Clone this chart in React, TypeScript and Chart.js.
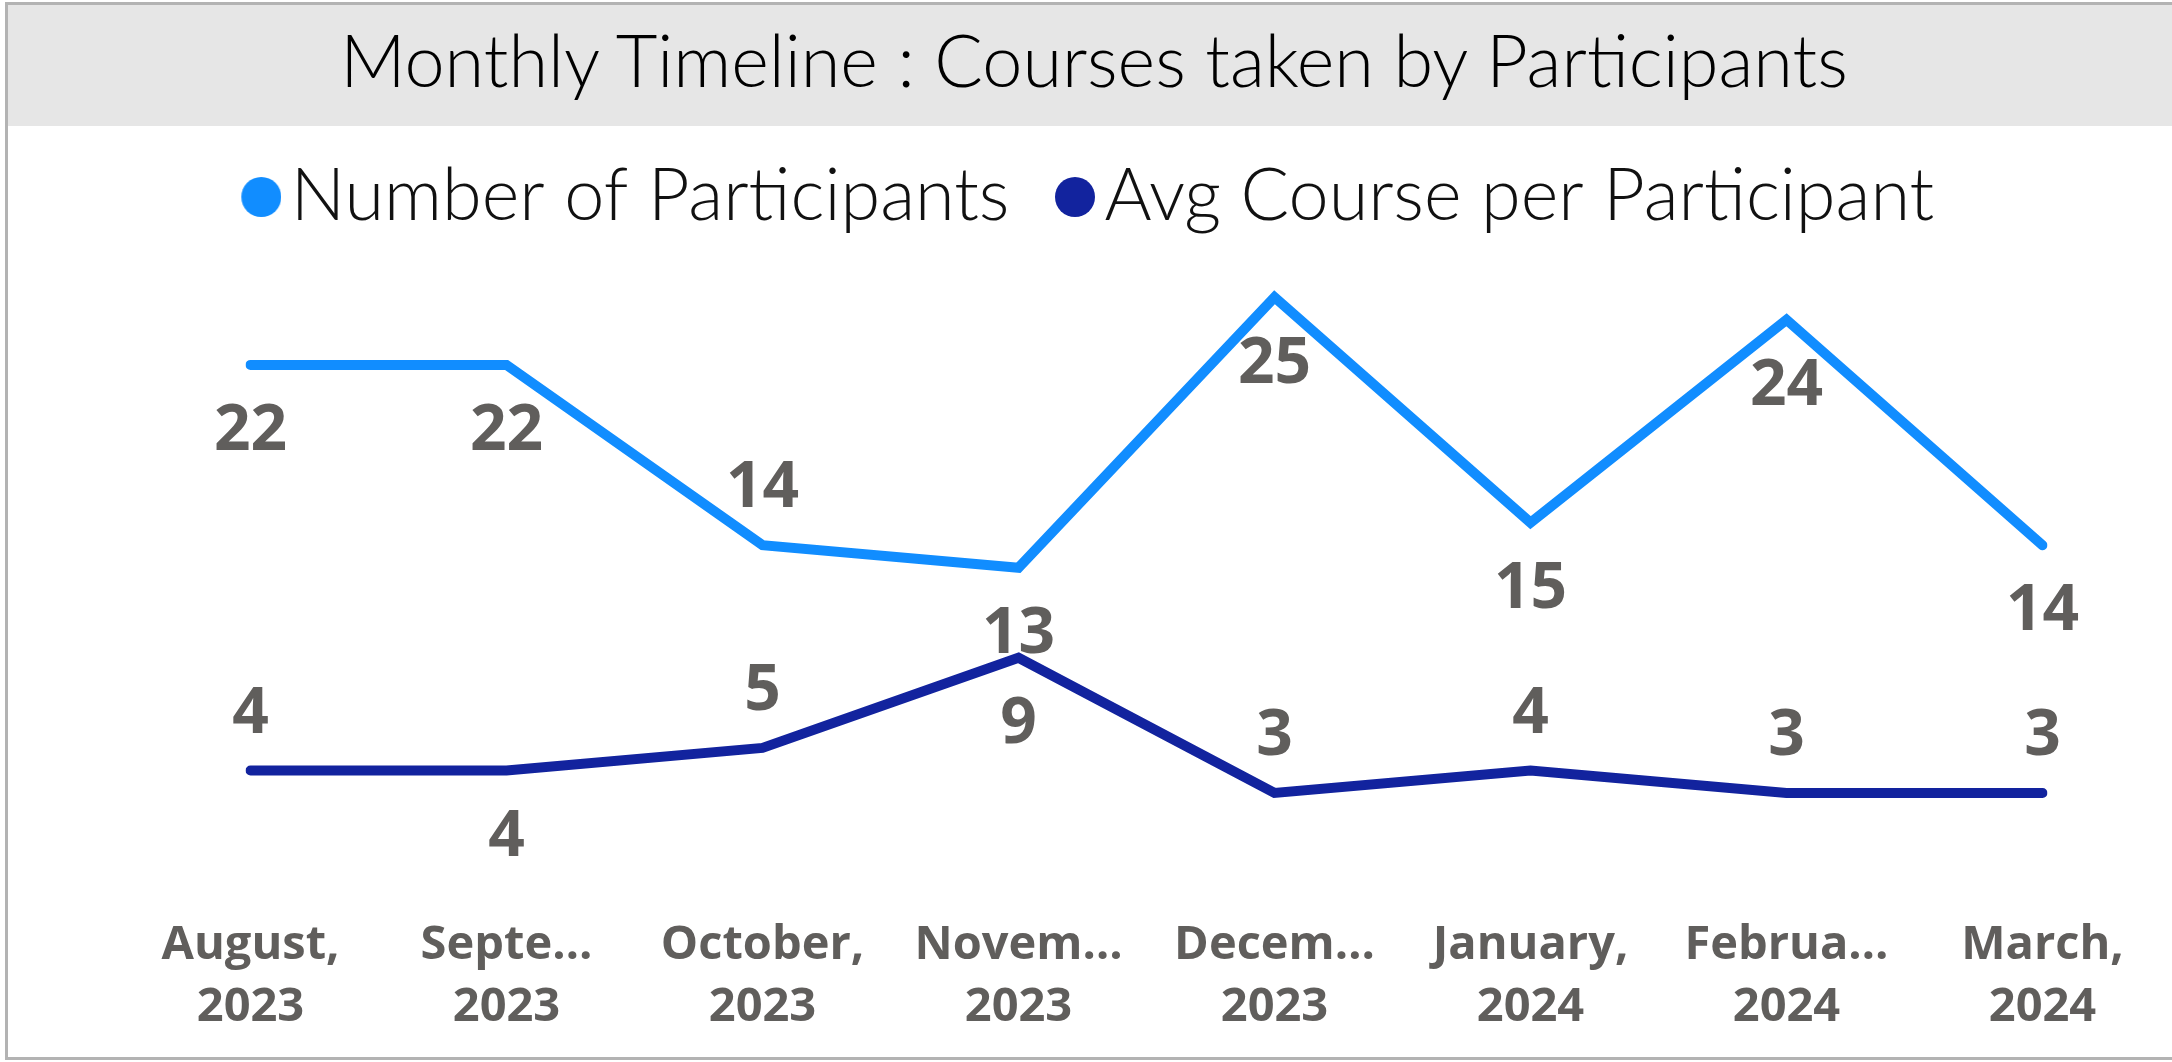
import React, { useEffect, useRef } from 'react';
import { Chart, registerables } from 'chart.js';

Chart.register(...registerables);

// ---- data ----
const chartTitle = 'Monthly Timeline : Courses taken by Participants';
const monthLabels = ['August,', 'Septe…', 'October,', 'Novem…', 'Decem…', 'January,', 'Februa…', 'March,'];
const yearLabels = ['2023', '2023', '2023', '2023', '2023', '2024', '2024', '2024'];
const seriesNames = ['Number of Participants', 'Avg Course per Participant'];
const participants = [22, 22, 14, 13, 25, 15, 24, 14];
const avgCourses = [4, 4, 5, 9, 3, 4, 3, 3];
// label placement (style): where each value label sits relative to its point
const participantsLabelSide = ['below', 'below', 'above', 'below', 'below', 'below', 'below', 'below'];
const avgLabelSide = ['above', 'below', 'above', 'below', 'above', 'above', 'above', 'above'];

const seriesColors = ['#118DFF', '#12239E'];
const labelGray = '#605E5C';
const lightFont = 'Lato';
const boldFont = '"Open Sans"';

const labelSides = [participantsLabelSide, avgLabelSide];

const valueLabelPlugin = {
  id: 'valueLabels',
  afterDatasetsDraw(chart: any) {
    const ctx = chart.ctx;
    ctx.save();
    ctx.font = `700 64px ${boldFont}`;
    ctx.fillStyle = labelGray;
    ctx.textAlign = 'center';
    ctx.textBaseline = 'middle';
    chart.data.datasets.forEach((ds: any, i: number) => {
      const meta = chart.getDatasetMeta(i);
      meta.data.forEach((pt: any, j: number) => {
        const side = labelSides[i][j];
        const dy = side === 'above' ? -56 : 67;
        ctx.fillText(String(ds.data[j]), pt.x, pt.y + dy);
      });
    });
    ctx.restore();
  },
};

// legend marker: a 40px dot, drawn slightly to the right inside its image
function makeDot(color: string): HTMLCanvasElement {
  const shift = 7;
  const d = 40;
  const c = document.createElement('canvas');
  c.width = d + 2 * shift;
  c.height = d;
  const g = c.getContext('2d');
  if (g) {
    g.fillStyle = color;
    g.beginPath();
    g.arc(d / 2 + 2 * shift, d / 2, d / 2, 0, Math.PI * 2);
    g.fill();
  }
  return c;
}

export default function App() {
  const canvasRef = useRef<HTMLCanvasElement | null>(null);

  useEffect(() => {
    document.body.style.margin = '0';
    document.body.style.overflow = 'hidden';
    const canvas = canvasRef.current;
    if (!canvas) return;
    const labels = monthLabels.map((m, i) => [m, yearLabels[i]]);
    const values = [participants, avgCourses];
    const dots = seriesColors.map((c) => makeDot(c));
    const chart = new Chart(canvas, {
      type: 'line',
      data: {
        labels,
        datasets: seriesNames.map((name, i) => ({
          label: name,
          data: values[i],
          borderColor: seriesColors[i],
          backgroundColor: seriesColors[i],
          borderWidth: 10,
          borderCapStyle: 'round' as const,
          borderJoinStyle: 'miter' as const,
          tension: 0,
          pointRadius: 0,
          pointHoverRadius: 0,
          fill: false,
        })),
      },
      options: {
        animation: false,
        responsive: false,
        devicePixelRatio: 1,
        layout: { padding: { top: -23, right: 0, left: 0, bottom: 0 } },
        plugins: {
          title: { display: false },
          tooltip: { enabled: false },
          legend: {
            display: true,
            position: 'top',
            align: 'center',
            labels: {
              usePointStyle: true,
              boxWidth: 1,
              boxHeight: 28.3,
              padding: 58,
              color: '#111111',
              font: { family: lightFont, size: 72, weight: '300' as any },
              generateLabels: (c: any) =>
                Chart.defaults.plugins.legend.labels.generateLabels(c).map((l: any, i: number) => ({
                  ...l,
                  lineWidth: 0,
                  fillStyle: seriesColors[i],
                  strokeStyle: seriesColors[i],
                  pointStyle: dots[i],
                })),
            },
          },
        },
        scales: {
          x: {
            type: 'category',
            offset: false,
            grid: { display: false, drawTicks: false, tickLength: 0 },
            border: { display: false },
            ticks: {
              color: labelGray,
              font: { family: 'Open Sans', size: 47, weight: 'bold', lineHeight: 62 / 47 },
              padding: 54,
              maxRotation: 0,
              minRotation: 0,
              autoSkip: false,
            },
            afterFit: (s: any) => {
              s.height = 196.4;
            },
          },
          y: {
            type: 'linear',
            position: 'left',
            min: 0,
            max: 27.41,
            grid: { display: false, drawTicks: false },
            border: { display: false },
            ticks: { display: false },
            afterFit: (s: any) => {
              s.width = 242.5;
            },
          },
          yRight: {
            type: 'linear',
            position: 'right',
            grid: { display: false, drawTicks: false },
            border: { display: false },
            ticks: { display: false },
            afterFit: (s: any) => {
              s.width = 137.5;
            },
          },
        },
      },
      plugins: [valueLabelPlugin],
    });
    return () => chart.destroy();
  }, []);

  return (
    <div style={{ position: 'fixed', left: 0, top: 0, width: 2172, height: 1062, overflow: 'hidden', background: '#ffffff' }}>
      <div
        style={{
          position: 'absolute',
          left: 5,
          top: 2,
          width: 2172,
          height: 1052,
          border: '3px solid #b3b3b3',
          background: '#ffffff',
        }}
      />
      <div
        style={{
          position: 'absolute',
          left: 8,
          top: 5,
          width: 2172,
          height: 121,
          background: '#e6e6e6',
        }}
      />
      <div
        style={{
          position: 'absolute',
          left: 8,
          top: 16,
          width: 2172,
          textAlign: 'center',
          fontFamily: lightFont,
          fontWeight: 300,
          fontSize: 72,
          lineHeight: 1.2,
          color: '#000000',
          whiteSpace: 'nowrap',
        }}
      >
        {chartTitle}
      </div>
      <canvas
        ref={canvasRef}
        width={2172}
        height={931}
        style={{ position: 'absolute', left: 8, top: 126, width: 2172, height: 931 }}
      />
    </div>
  );
}
